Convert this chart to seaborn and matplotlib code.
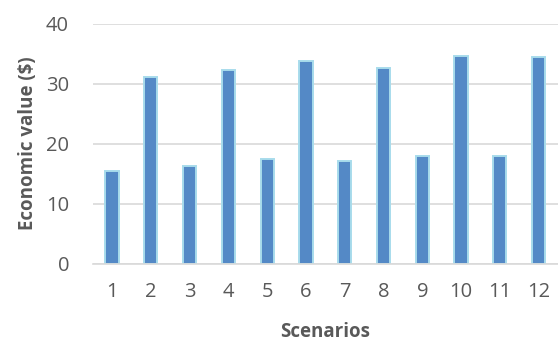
import matplotlib
matplotlib.use("Agg")
import matplotlib.pyplot as plt
import seaborn as sns
import pandas as pd

scenarios = [str(i) for i in range(1, 13)]
values = [15.4, 31.1, 16.3, 32.3, 17.4, 33.7, 17.1, 32.6, 18.0, 34.6, 17.9, 34.5]
y_ticks = [0, 10, 20, 30, 40]

df = pd.DataFrame({"Scenario": scenarios, "Value": values})

sns.set_theme(style="white")
plt.rcParams["font.family"] = ["Open Sans", "DejaVu Sans"]

fig = plt.figure(figsize=(5.58, 3.41), dpi=100)
ax = fig.add_axes([0.166, 0.227, 0.834, 0.704])

sns.barplot(data=df, x="Scenario", y="Value", ax=ax, color="#5489C6",
            width=0.34, edgecolor="#A8DCEC", linewidth=1.4, saturation=1)

ax.set_ylim(0, 40)
ax.set_yticks(y_ticks)
ax.yaxis.grid(True, color="#D9D9D9", linewidth=1.2)
ax.set_axisbelow(True)
for s in ["top", "right", "left"]:
    ax.spines[s].set_visible(False)
ax.spines["bottom"].set_color("#D9D9D9")
ax.spines["bottom"].set_linewidth(1.2)
ax.tick_params(axis="both", length=0, labelsize=14.5, colors="#595959")
ax.tick_params(axis="x", pad=13)
ax.tick_params(axis="y", pad=17)

ax.set_xlabel("Scenarios", fontsize=13.5, fontweight="bold", color="#595959", labelpad=15)
ax.set_ylabel("Economic value ($)", fontsize=13.5, fontweight="bold", color="#595959", labelpad=6)

fig.savefig("out.png", dpi=100)
